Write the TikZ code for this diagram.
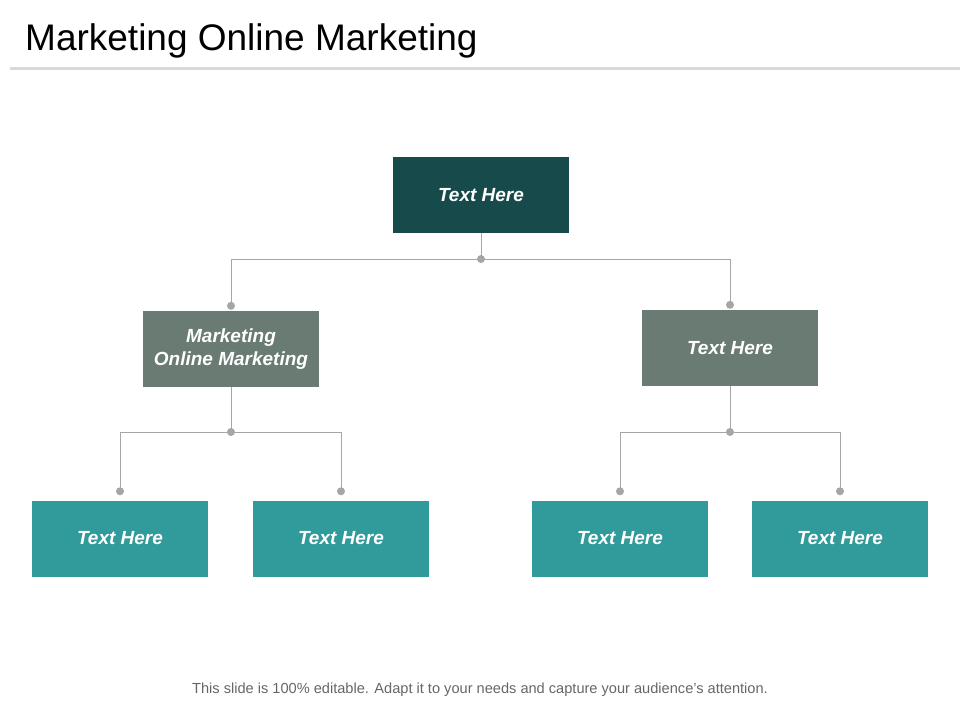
\documentclass[tikz,border=0pt]{standalone}
\usepackage{fontspec}
\setmainfont{Liberation Sans}
\usetikzlibrary{positioning}

\definecolor{topteal}{HTML}{174A4A}
\definecolor{midgray}{HTML}{6A7B73}
\definecolor{lowteal}{HTML}{319A9B}
\definecolor{linkgray}{HTML}{A6A6A6}
\definecolor{rulegray}{HTML}{D9D9D9}
\definecolor{footgray}{HTML}{666666}

\begin{document}
\begin{tikzpicture}[x=1pt,y=-1pt,
  box/.style={minimum width=176pt,minimum height=76pt,inner sep=2pt,text=white,
    font=\fontsize{19}{23}\selectfont\bfseries\itshape,align=center},
  link/.style={draw=linkgray,line width=1pt},
  dot/.style={circle,fill=linkgray,inner sep=0pt,minimum size=8pt}]
  \useasboundingbox (0,0) rectangle (960,720);
  % title and rule
  \node[anchor=base west,inner sep=0pt,font=\fontsize{37}{44}\selectfont] (title) at (25,50) {Marketing Online Marketing};
  \draw[rulegray,line width=3pt] (10,68) -- (960,68);
  % boxes
  \node[box,fill=topteal] (top) at (481,195) {Text Here};
  \node[box,fill=midgray] (ml) at (231,349) {Marketing\\Online Marketing};
  \node[box,fill=midgray] (mr) at (730,348) {Text Here};
  \node[box,fill=lowteal] (b1) at (120,538.5) {Text Here};
  \node[box,fill=lowteal] (b2) at (341,538.5) {Text Here};
  \node[box,fill=lowteal] (b3) at (620,538.5) {Text Here};
  \node[box,fill=lowteal] (b4) at (840,538.5) {Text Here};
  % junction dots
  \node[dot] (j0) at (481,259) {};
  \node[dot] (j1) at (231,432) {};
  \node[dot] (j2) at (730,432) {};
  \node[dot] (dml) at ([yshift=5pt]ml.north) {};
  \node[dot] (dmr) at ([yshift=5pt]mr.north) {};
  \node[dot] (d1) at ([yshift=9pt]b1.north) {};
  \node[dot] (d2) at ([yshift=9pt]b2.north) {};
  \node[dot] (d3) at ([yshift=9pt]b3.north) {};
  \node[dot] (d4) at ([yshift=9pt]b4.north) {};
  % connectors
  \draw[link] (top.south) -- (j0.center);
  \draw[link] (dml.center) -- (dml |- j0) -- (dmr |- j0) -- (dmr.center);
  \draw[link] (ml.south) -- (j1.center);
  \draw[link] (d1.center) -- (d1 |- j1) -- (d2 |- j1) -- (d2.center);
  \draw[link] (mr.south) -- (j2.center);
  \draw[link] (d3.center) -- (d3 |- j2) -- (d4 |- j2) -- (d4.center);
  % footer
  \node[font=\fontsize{14.6}{17}\selectfont,text=footgray] (foot) at (480,690)
    {This slide is 100\% editable. Adapt it to your needs and capture your audience{\char"27}s attention.};
\end{tikzpicture}
\end{document}
